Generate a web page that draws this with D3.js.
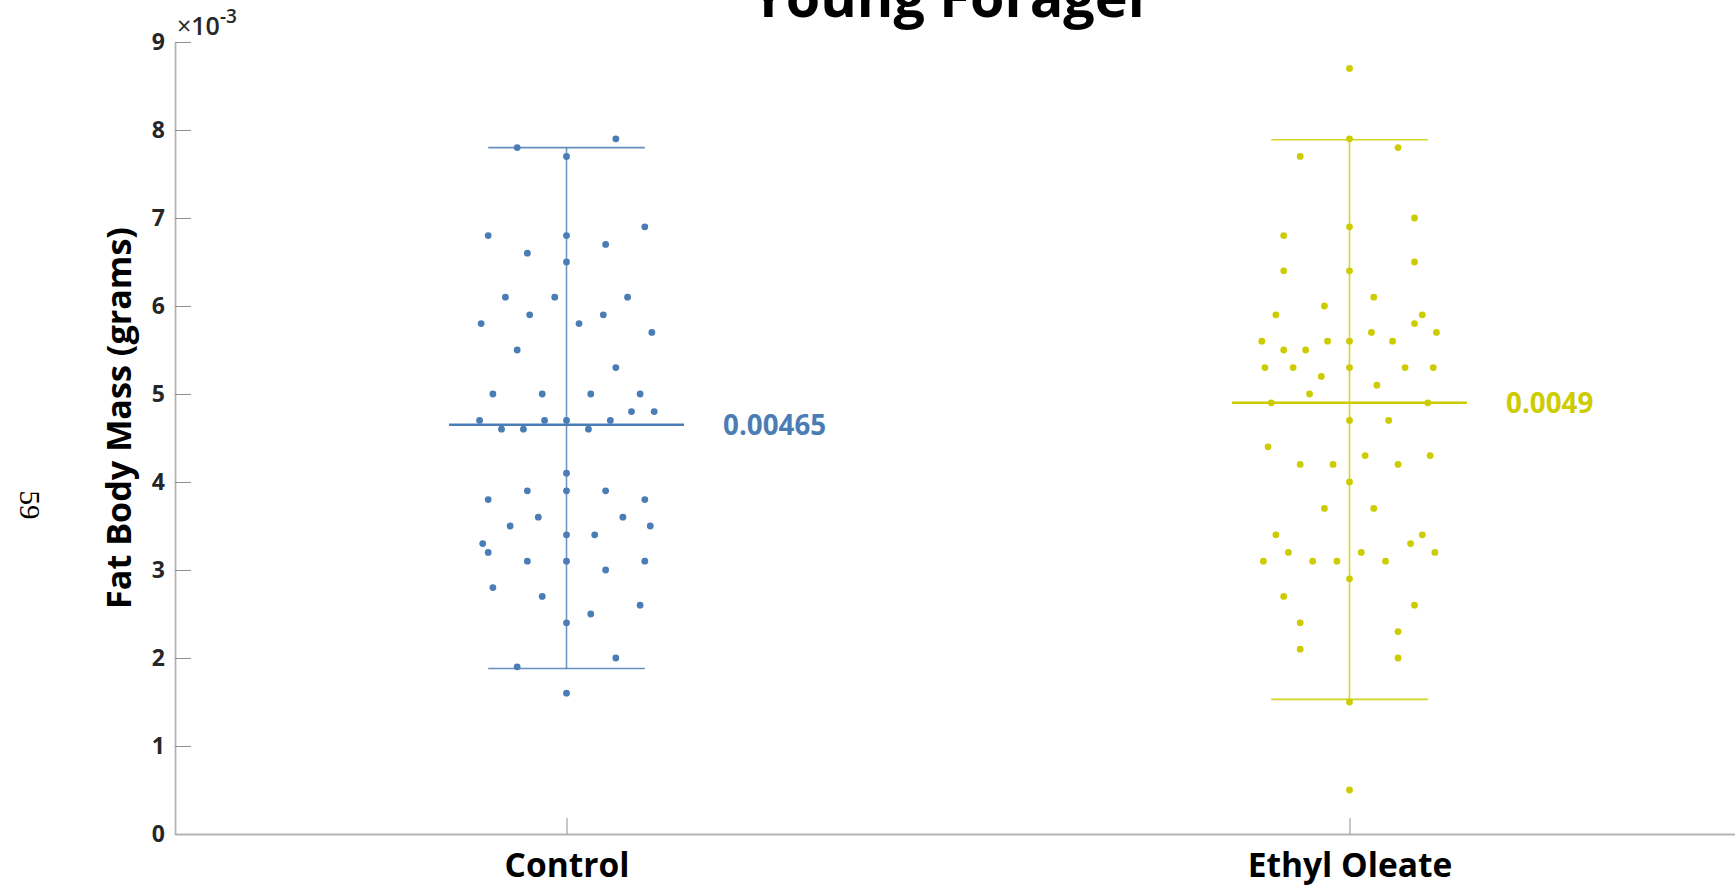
<!DOCTYPE html>
<html>
<head>
<meta charset="utf-8">
<script src="https://cdn.jsdelivr.net/npm/d3@7"></script>
<style>
  html, body { margin: 0; padding: 0; background: #ffffff; overflow: hidden; }
  svg { display: block; }
</style>
</head>
<body>
<svg id="chart" width="1735" height="887"></svg>
<script>
// ---- data (grams) ----
const categories = ["Control", "Ethyl Oleate"];

const controlValues = [
  0.0079, 0.0078, 0.0077, 0.0068, 0.0069, 0.0068, 0.0067, 0.0066, 0.0065,
  0.0061, 0.0061, 0.0061, 0.0059, 0.0059, 0.0058, 0.0058, 0.0057, 0.0055,
  0.0053, 0.0050, 0.0050, 0.0050, 0.0050, 0.0048, 0.0048, 0.0047, 0.0047,
  0.0047, 0.0047, 0.0046, 0.0046, 0.0046, 0.0041, 0.0039, 0.0039, 0.0039,
  0.0038, 0.0038, 0.0036, 0.0036, 0.0035, 0.0035, 0.0034, 0.0034, 0.0033,
  0.0032, 0.0031, 0.0031, 0.0031, 0.0030, 0.0028, 0.0027, 0.0026, 0.0025,
  0.0024, 0.0020, 0.0019, 0.0016
];
// horizontal spread of each point, in category units
const controlJitter = [
  0.063, -0.063, 0, -0.100, 0.100, 0, 0.050, -0.050, 0,
  -0.078, -0.015, 0.078, -0.047, 0.047, -0.109, 0.016, 0.109, -0.063,
  0.063, -0.094, -0.031, 0.031, 0.094, 0.083, 0.112, -0.111, -0.028,
  0, 0.056, -0.083, -0.055, 0.028, 0, -0.050, 0, 0.050,
  -0.100, 0.100, -0.036, 0.072, -0.072, 0.107, 0, 0.036, -0.107,
  -0.100, -0.050, 0, 0.100, 0.050, -0.094, -0.031, 0.094, 0.031,
  0, 0.063, -0.063, 0
];

const oleateValues = [
  0.0087, 0.0079, 0.0078, 0.0077, 0.0070, 0.0069, 0.0068, 0.0065, 0.0064,
  0.0064, 0.0061, 0.0060, 0.0059, 0.0059, 0.0058, 0.0057, 0.0057, 0.0056,
  0.0056, 0.0056, 0.0056, 0.0055, 0.0055, 0.0053, 0.0053, 0.0053, 0.0053,
  0.0053, 0.0052, 0.0051, 0.0050, 0.0049, 0.0049, 0.0047, 0.0047, 0.0044,
  0.0043, 0.0043, 0.0042, 0.0042, 0.0042, 0.0040, 0.0037, 0.0037, 0.0034,
  0.0034, 0.0033, 0.0032, 0.0032, 0.0032, 0.0031, 0.0031, 0.0031, 0.0031,
  0.0029, 0.0027, 0.0026, 0.0024, 0.0023, 0.0021, 0.0020, 0.0015, 0.0005
];
const oleateJitter = [
  0, 0, 0.062, -0.063, 0.083, 0, -0.084, 0.083, -0.084,
  0, 0.031, -0.032, -0.094, 0.093, 0.083, 0.028, 0.111, -0.112,
  -0.028, 0, 0.055, -0.084, -0.056, -0.108, -0.072, 0, 0.071,
  0.107, -0.036, 0.035, -0.051, -0.100, 0.100, 0, 0.050, -0.104,
  0.020, 0.103, -0.063, -0.021, 0.062, 0, -0.032, 0.031, -0.094,
  0.093, 0.078, -0.078, 0.015, 0.109, -0.110, -0.047, -0.016, 0.046,
  0, -0.084, 0.083, -0.063, 0.062, -0.063, 0.062, 0, 0
];

const groupMeans = [0.00465, 0.0049];
const meanLabels = ["0.00465", "0.0049"];
const whiskerLow = [0.00188, 0.00153];
const whiskerHigh = [0.0078, 0.00789];
const yTickValues = [0, 0.001, 0.002, 0.003, 0.004, 0.005, 0.006, 0.007, 0.008, 0.009];
const yTickLabels = ["0", "1", "2", "3", "4", "5", "6", "7", "8", "9"];

const groupColors = ["#4a7db5", "#cccc00"];
const FONT = "'Open Sans', 'DejaVu Sans', sans-serif";

// ---- layout ----
const svg = d3.select("#chart");
const x = d3.scaleLinear().domain([0.5, 2.5]).range([175, 1741]);
const y = d3.scaleLinear().domain([0, 0.009]).range([834, 42]);

// scale a text's font size so that it spans the given width
function fitWidth(sel, target) {
  const w = sel.node().getComputedTextLength();
  const fs = parseFloat(sel.attr("font-size"));
  sel.attr("font-size", (fs * target / w).toFixed(2));
  return +sel.attr("font-size");
}

// ---- axes ----
const yAxis = d3.axisLeft(y)
  .tickValues(yTickValues)
  .tickFormat((d, i) => yTickLabels[i])
  .tickSizeInner(-16)
  .tickSizeOuter(0)
  .tickPadding(10);

const gy = svg.append("g").attr("transform", `translate(${x(0.5)},0)`).call(yAxis);
gy.select(".domain").attr("stroke", "#b4b4b4").attr("stroke-width", 1.8);
gy.selectAll(".tick line").attr("stroke", "#8f8f8f").attr("stroke-width", 1);
gy.selectAll(".tick text")
  .attr("fill", "#262626")
  .attr("font-family", FONT)
  .attr("font-weight", 700)
  .attr("font-size", 23);

const xAxis = d3.axisBottom(x)
  .tickValues([1, 2])
  .tickFormat(d => categories[d - 1])
  .tickSizeInner(-16)
  .tickSizeOuter(0);

const gx = svg.append("g").attr("transform", `translate(0,${y(0)})`).call(xAxis);
gx.select(".domain").attr("stroke", "#b4b4b4").attr("stroke-width", 1.8);
gx.selectAll(".tick line").attr("stroke", "#8f8f8f").attr("stroke-width", 1);
const xLabels = gx.selectAll(".tick text")
  .attr("fill", "#000000")
  .attr("font-family", FONT)
  .attr("font-weight", 700)
  .attr("font-size", 30)
  .attr("dy", null)
  .attr("y", 43);
const xLabelSize = fitWidth(d3.select(xLabels.nodes()[0]), 125);
xLabels.attr("font-size", xLabelSize);

// exponent marker above the y axis
const expo = svg.append("text")
  .attr("x", x(0.5) + 2)
  .attr("y", 35)
  .attr("fill", "#262626")
  .attr("font-family", FONT)
  .attr("font-size", 25);
expo.append("tspan").attr("font-weight", 400).text("\u00d7");
expo.append("tspan").attr("font-weight", 600).text("10");
expo.append("tspan").attr("font-weight", 600).attr("font-size", 19).attr("dy", -12).text("-3");

// y axis title
const yTitle = svg.append("text")
  .attr("transform", `translate(131,418) rotate(-90)`)
  .attr("text-anchor", "middle")
  .attr("fill", "#000000")
  .attr("font-family", FONT)
  .attr("font-weight", 700)
  .attr("font-size", 30)
  .text("Fat Body Mass (grams)");
fitWidth(yTitle, 382);

// chart title (runs off the top edge)
const title = svg.append("text")
  .attr("x", 952)
  .attr("y", 17)
  .attr("text-anchor", "middle")
  .attr("fill", "#000000")
  .attr("font-family", FONT)
  .attr("font-weight", 700)
  .attr("font-size", 50)
  .text("Young Forager");
fitWidth(title, 402);

// page number in the margin
svg.append("text")
  .attr("transform", "translate(20,505) rotate(90)")
  .attr("text-anchor", "middle")
  .attr("fill", "#000000")
  .attr("font-family", "'Liberation Serif', 'DejaVu Serif', serif")
  .attr("font-size", 29)
  .text("59");

// ---- groups ----
const groups = [
  { values: controlValues, jitter: controlJitter },
  { values: oleateValues, jitter: oleateJitter }
];

let labelSize = 22;
groups.forEach((g, i) => {
  const cx = i + 1;
  const color = groupColors[i];
  const layer = svg.append("g");

  // range bar
  layer.append("line")
    .attr("x1", x(cx)).attr("x2", x(cx))
    .attr("y1", y(whiskerLow[i])).attr("y2", y(whiskerHigh[i]))
    .attr("stroke", color).attr("stroke-width", 1.6).attr("stroke-opacity", 0.8);
  [whiskerLow[i], whiskerHigh[i]].forEach(v => {
    layer.append("line")
      .attr("x1", x(cx - 0.1)).attr("x2", x(cx + 0.1))
      .attr("y1", y(v)).attr("y2", y(v))
      .attr("stroke", color).attr("stroke-width", 1.6).attr("stroke-opacity", 0.85);
  });

  // mean line
  layer.append("line")
    .attr("x1", x(cx - 0.15)).attr("x2", x(cx + 0.15))
    .attr("y1", y(groupMeans[i])).attr("y2", y(groupMeans[i]))
    .attr("stroke", color).attr("stroke-width", 2.6);

  // individual measurements
  layer.selectAll("circle")
    .data(g.values)
    .join("circle")
    .attr("cx", (d, j) => x(cx + g.jitter[j]))
    .attr("cy", d => y(d))
    .attr("r", 3.4)
    .attr("fill", color);

  // mean value label
  const lbl = layer.append("text")
    .attr("x", x(cx + 0.2))
    .attr("y", y(groupMeans[i]))
    .attr("dy", "0.36em")
    .attr("fill", color)
    .attr("font-family", FONT)
    .attr("font-weight", 700)
    .attr("font-size", labelSize)
    .text(meanLabels[i]);
  if (i === 0) labelSize = fitWidth(lbl, 103);
  else lbl.attr("font-size", labelSize);
});
</script>
</body>
</html>
